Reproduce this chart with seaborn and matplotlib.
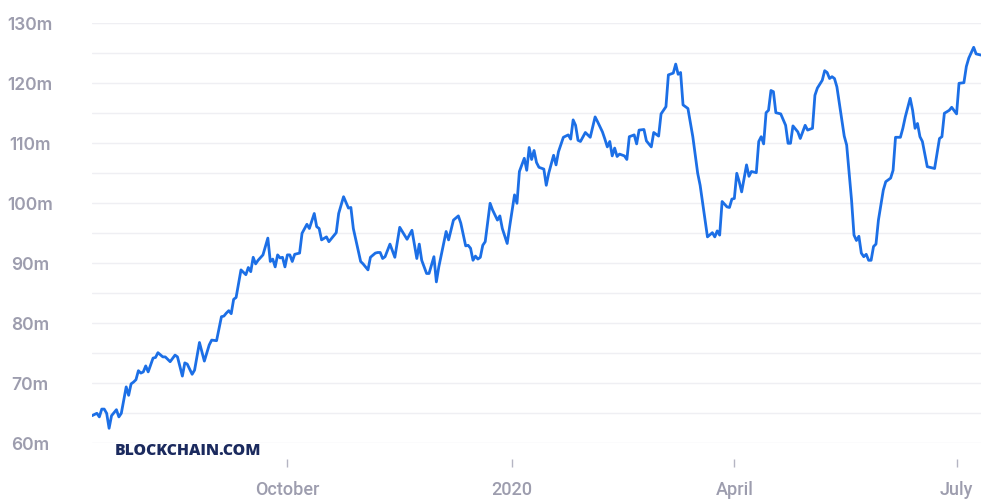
import numpy as np
import pandas as pd
import matplotlib
matplotlib.use("Agg")
import matplotlib.pyplot as plt
import seaborn as sns

# Hash rate (millions), sampled off the reference chart.
# Offsets are days relative to 2019-10-01.
start_date = "2019-10-01"
day_offsets = [
    -80, -78, -77, -76, -75, -74, -73, -72, -70, -69, -68, -66, -65, -64, -63, -62,
    -61, -60, -59, -58, -57, -55, -54, -53, -51, -50, -48, -46, -45, -43, -42, -41,
    -39, -38, -36, -34, -32, -31, -29, -27, -26, -25, -24, -23, -22, -21, -19, -17,
    -16, -15, -14, -13, -12, -10, -9, -8, -7, -6, -5, -4, -3, -2, -1, 0,
    1, 2, 3, 5, 6, 8, 9, 11, 12, 13, 14, 16, 17, 20, 21, 23,
    25, 26, 27, 30, 31, 33, 34, 36, 37, 38, 39, 40, 42, 44, 46, 49,
    51, 53, 54, 55, 57, 58, 60, 61, 62, 65, 66, 68, 70, 71, 73, 74,
    75, 76, 77, 78, 79, 80, 81, 83, 84, 86, 87, 88, 90, 91, 93, 94,
    95, 97, 98, 99, 100, 101, 102, 103, 105, 106, 107, 109, 110, 111, 113, 115,
    116, 117, 118, 119, 120, 122, 123, 124, 126, 127, 129, 130, 131, 132, 133, 134,
    135, 136, 138, 139, 140, 142, 143, 144, 146, 147, 149, 150, 152, 153, 155, 156,
    158, 159, 160, 161, 162, 164, 166, 168, 169, 171, 172, 174, 175, 176, 177, 178,
    180, 181, 182, 183, 184, 185, 186, 188, 189, 190, 192, 193, 194, 195, 196, 197,
    198, 199, 200, 202, 204, 205, 206, 207, 209, 210, 212, 213, 215, 216, 217, 219,
    220, 221, 222, 223, 224, 225, 228, 229, 231, 232, 233, 234, 235, 236, 237, 238,
    239, 240, 241, 242, 244, 245, 247, 248, 249, 251, 252, 253, 255, 256, 257, 258,
    259, 260, 262, 263, 265, 266, 267, 268, 269, 271, 272, 274, 275, 277, 278, 279,
    281, 282, 284,
]
hash_rate_m = [
    64.6, 65.0, 64.4, 65.7, 65.7, 65.0, 62.5, 64.6, 65.6, 64.4, 65.0, 69.4, 68.0, 69.9, 70.2, 70.6,
    72.1, 71.7, 71.9, 72.9, 71.9, 74.2, 74.3, 75.1, 74.4, 74.4, 73.6, 74.7, 74.4, 71.2, 73.4, 73.2,
    71.5, 72.2, 76.8, 73.7, 76.4, 77.2, 77.1, 81.1, 81.2, 81.7, 82.1, 81.6, 84.0, 84.3, 88.9, 88.1,
    89.3, 88.6, 91.0, 89.9, 90.5, 91.4, 92.8, 94.2, 90.3, 90.7, 89.4, 91.4, 90.9, 91.0, 89.4, 91.4,
    91.4, 90.3, 91.5, 91.7, 95.0, 96.5, 95.8, 98.3, 96.1, 95.8, 93.9, 94.4, 93.6, 95.1, 98.3, 101.1,
    99.2, 99.3, 95.8, 90.3, 89.9, 88.9, 91.0, 91.7, 91.8, 91.8, 90.8, 91.1, 93.2, 91.0, 96.0, 94.0,
    95.5, 90.8, 93.2, 90.5, 88.3, 88.3, 91.1, 86.9, 89.4, 95.3, 93.9, 97.2, 97.9, 96.7, 92.9, 93.0,
    92.5, 90.5, 91.2, 90.7, 91.0, 93.0, 93.6, 100.0, 98.9, 97.2, 97.9, 95.8, 93.3, 96.1, 101.4, 100.0,
    105.3, 107.5, 105.5, 109.3, 107.3, 108.8, 106.8, 106.0, 105.7, 103.0, 105.0, 108.0, 106.4, 108.6, 111.0, 111.4,
    110.7, 113.9, 113.0, 110.5, 110.3, 111.8, 111.4, 111.0, 114.4, 113.6, 111.9, 110.7, 109.4, 110.3, 107.9, 109.2,
    107.8, 108.2, 107.9, 107.3, 111.1, 111.4, 109.9, 112.2, 112.3, 110.4, 109.4, 111.8, 111.2, 114.9, 116.1, 121.4,
    121.7, 123.2, 121.5, 121.8, 116.4, 115.8, 111.1, 105.0, 103.0, 97.2, 94.4, 95.1, 94.4, 95.4, 94.7, 100.3,
    99.4, 99.3, 100.7, 100.8, 105.0, 103.6, 101.9, 106.4, 104.5, 105.3, 105.1, 110.3, 111.1, 109.9, 115.1, 115.5,
    118.8, 118.6, 115.1, 114.9, 113.0, 110.0, 110.0, 112.9, 111.9, 110.8, 113.0, 112.2, 112.5, 118.0, 119.2, 120.5,
    122.1, 121.8, 120.8, 121.1, 120.8, 119.4, 111.2, 109.7, 100.5, 94.7, 93.8, 94.5, 91.7, 91.1, 91.5, 90.5,
    90.5, 92.8, 93.2, 97.2, 102.2, 103.6, 104.2, 105.5, 111.0, 111.0, 112.5, 114.4, 117.5, 115.5, 112.5, 113.3,
    111.1, 110.3, 106.1, 106.0, 105.8, 108.3, 110.8, 111.1, 115.0, 115.5, 116.0, 114.9, 120.0, 120.1, 122.8, 124.2,
    126.0, 124.9, 124.7,
]

x_tick_dates = ["2019-10-01", "2020-01-01", "2020-04-01", "2020-07-01"]
x_tick_labels = ["October", "2020", "April", "July"]
y_ticks = [60, 70, 80, 90, 100, 110, 120, 130]

LINE_COLOR = "#1c6fe6"
LABEL_COLOR = "#9d9dae"
GRID_COLOR = "#efeff3"

df = pd.DataFrame({
    "date": pd.Timestamp(start_date) + pd.to_timedelta(day_offsets, unit="D"),
    "hash_rate": hash_rate_m,
})

sns.set_theme(style="white")
plt.rcParams["font.family"] = ["Inter", "DejaVu Sans"]

fig = plt.figure(figsize=(10, 5.03), dpi=100)
ax = fig.add_axes([0.092, 0.1187, 0.889, 0.835])

# faint horizontal grid every 5m
for yv in np.arange(60, 131, 5):
    ax.axhline(yv, color=GRID_COLOR, linewidth=1.0, zorder=0)

sns.lineplot(
    data=df, x="date", y="hash_rate", ax=ax,
    estimator=None, color=LINE_COLOR, linewidth=2.0, zorder=3,
    solid_joinstyle="round", solid_capstyle="round",
)

ax.set_xlim(df["date"].min(), df["date"].max())
ax.set_ylim(60, 130)
ax.set_xlabel("")
ax.set_ylabel("")

for side in ["top", "right", "left"]:
    ax.spines[side].set_visible(False)
ax.spines["bottom"].set_position(("outward", 11))
ax.spines["bottom"].set_visible(False)

ax.set_yticks(y_ticks)
ax.set_yticklabels([f"{v}m" for v in y_ticks])
ax.tick_params(axis="y", length=0, pad=44.5, labelsize=12.5, labelcolor=LABEL_COLOR)
for lbl in ax.get_yticklabels():
    lbl.set_horizontalalignment("center")
    lbl.set_fontweight("semibold")

ax.set_xticks(pd.to_datetime(x_tick_dates))
ax.set_xticklabels(x_tick_labels)
ax.tick_params(axis="x", direction="out", length=6, width=1, color="#b5b5c3",
               pad=10, labelsize=13, labelcolor=LABEL_COLOR, bottom=True)
for lbl in ax.get_xticklabels():
    lbl.set_family(["Roboto", "DejaVu Sans"])
    lbl.set_fontweight("medium")

fig.text(0.115, 0.103, "BLOCKCHAIN.COM", fontsize=11.3, fontweight="heavy",
         color="#1b2a5e", va="center", ha="left", family=["Open Sans", "DejaVu Sans"])

fig.savefig("out.png", dpi=100, facecolor="white")
plt.close(fig)
